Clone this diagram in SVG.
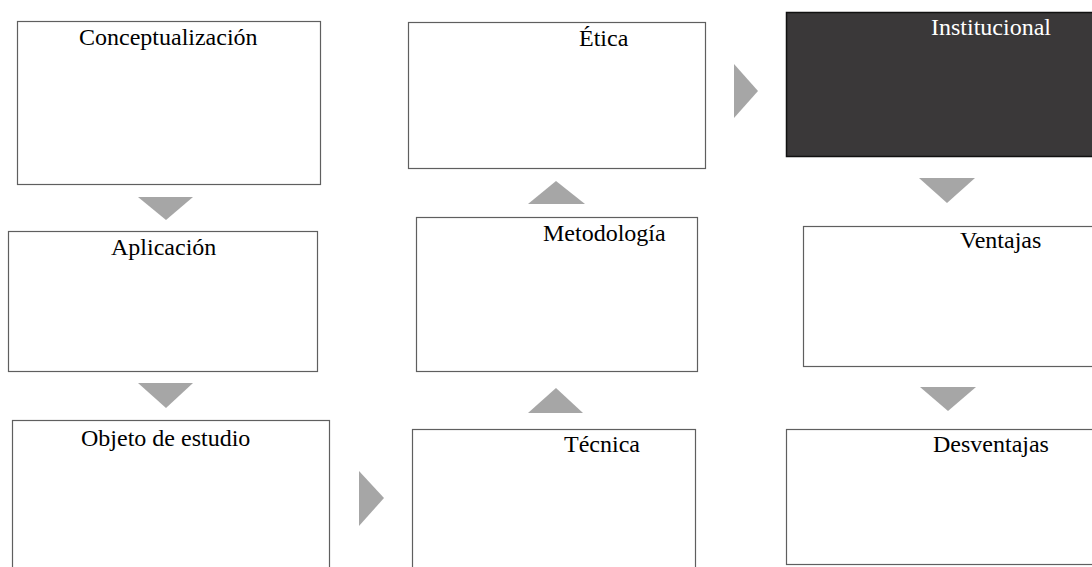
<svg xmlns="http://www.w3.org/2000/svg" width="1092" height="567" viewBox="0 0 1092 567">
<style>
.box{fill:#ffffff;stroke:#5f5f5f;stroke-width:1.2}
.dark{fill:#3a3839;stroke:#111111;stroke-width:1.5}
text{font-family:'Liberation Serif','Times New Roman',Times,serif;font-size:24px}
.lbl{fill:#000000}
.lblw{fill:#ffffff}
.arr{fill:#a6a6a6;stroke:none}
</style>
<rect width="1092" height="567" fill="#ffffff"/>
<g id="connectors">
<polygon class="arr" points="138,197 193,197 166,220"/>
<polygon class="arr" points="138,383 193,383 166,408"/>
<polygon class="arr" points="359,471 384,498 359,526"/>
<polygon class="arr" points="528,413 583,413 556,388"/>
<polygon class="arr" points="528,204 585,204 556,181"/>
<polygon class="arr" points="734,64 758,91 734,118"/>
<polygon class="arr" points="919,178 975,178 947,203"/>
<polygon class="arr" points="920,387 976,387 948,411"/>
</g>
<g id="node-conceptualizacion">
<rect class="box" x="17.5" y="21.5" width="303" height="163"/>
<text class="lbl" x="79" y="45" font-family="Liberation Serif, serif">Conceptualización</text>
</g>
<g id="node-aplicacion">
<rect class="box" x="8.5" y="231.5" width="309" height="140"/>
<text class="lbl" x="111" y="255" font-family="Liberation Serif, serif">Aplicación</text>
</g>
<g id="node-objeto">
<rect class="box" x="12.5" y="420.5" width="317" height="160"/>
<text class="lbl" x="81" y="446" font-family="Liberation Serif, serif">Objeto de estudio</text>
</g>
<g id="node-tecnica">
<rect class="box" x="412.5" y="429.5" width="283" height="150"/>
<text class="lbl" x="564" y="452" font-family="Liberation Serif, serif">Técnica</text>
</g>
<g id="node-metodologia">
<rect class="box" x="416.5" y="217.5" width="281" height="154"/>
<text class="lbl" x="543" y="241" font-family="Liberation Serif, serif">Metodología</text>
</g>
<g id="node-etica">
<rect class="box" x="408.5" y="22.5" width="297" height="146"/>
<text class="lbl" x="579" y="46" font-family="Liberation Serif, serif">Ética</text>
</g>
<g id="node-institucional">
<rect class="dark" x="786.5" y="12.5" width="320" height="144"/>
<text class="lblw" x="931" y="35" font-family="Liberation Serif, serif">Institucional</text>
</g>
<g id="node-ventajas">
<rect class="box" x="803.5" y="226.5" width="300" height="140"/>
<text class="lbl" x="960" y="248" font-family="Liberation Serif, serif">Ventajas</text>
</g>
<g id="node-desventajas">
<rect class="box" x="786.5" y="429.5" width="320" height="135"/>
<text class="lbl" x="933" y="452" font-family="Liberation Serif, serif">Desventajas</text>
</g>
</svg>
